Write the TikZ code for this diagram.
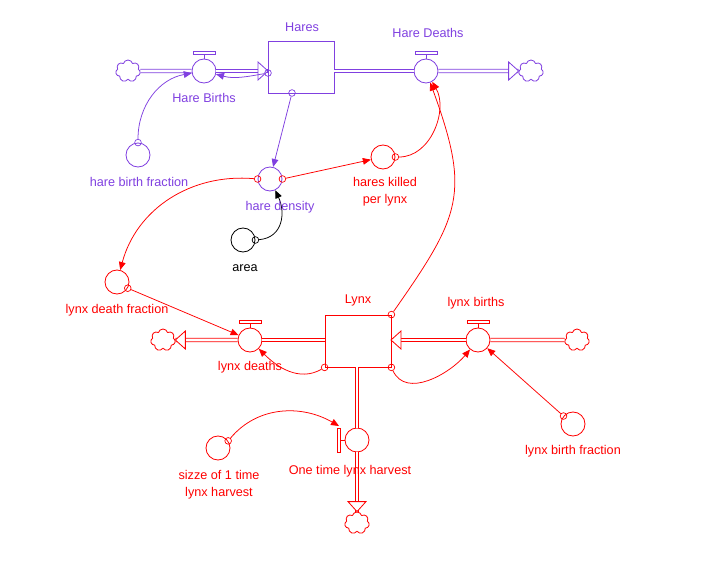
\documentclass[tikz,border=0pt]{standalone}
\usepackage{fontspec}
\setmainfont{Liberation Sans}
\usepackage{xcolor}
\usetikzlibrary{arrows.meta,shapes.symbols}

\definecolor{harepurple}{RGB}{128,64,224}
\definecolor{lynxred}{RGB}{255,0,0}

\tikzset{
  stock/.style={draw, rectangle, minimum width=1.98cm, minimum height=1.56cm, inner sep=0pt, line width=0.7pt},
  valve/.style={draw, circle, fill=white, minimum size=0.72cm, inner sep=0pt, line width=0.7pt},
  aux/.style={draw, circle, minimum size=0.72cm, inner sep=0pt, line width=0.7pt},
  sink/.style={draw, cloud, cloud puffs=7, fill=white, minimum width=0.74cm, minimum height=0.66cm, inner sep=0pt, line width=0.7pt},
  pipe/.style={double, line width=0.7pt, double distance=2.3pt},
  pipehead/.style={line width=0.7pt, fill=white},
  link/.style={line width=0.65pt, -{Triangle[length=0.24cm, width=0.2cm]}},
  tailc/.style={draw, circle, minimum size=0.2cm, inner sep=0pt, line width=0.6pt},
  lbl/.style={font=\fontsize{10.8}{14.5}\selectfont, inner sep=0pt, align=center}
}

\begin{document}
\begin{tikzpicture}[x=0.03cm, y=0.03cm]
            \useasboundingbox (0,0) rectangle (707,-573);

            % stocks and clouds
            \node[harepurple, stock] (hares) at (301,-67) {};
            \node[lynxred, stock] (lynx) at (358,-341) {};
            \node[harepurple, sink] (hsrc) at (128,-71) {};
            \node[harepurple, sink] (hsnk) at (531,-71) {};
            \node[lynxred, sink] (lsnk) at (163,-340) {};
            \node[lynxred, sink] (lsrc) at (577,-340) {};
            \node[lynxred, sink] (harvsnk) at (357,-523) {};

            \coordinate (hin) at (268,-71);
            \coordinate (hout) at (334,-71);
            \coordinate (lout) at (325,-340);
            \coordinate (lin) at (391,-340);
            \coordinate (lbot) at (357,-367);

            % valves
            \node[harepurple, valve] (hbirths) at (204,-71) {};
            \node[harepurple, valve] (hdeaths) at (426,-71) {};
            \node[lynxred, valve] (ldeaths) at (250,-340) {};
            \node[lynxred, valve] (lbirths) at (478,-340) {};
            \node[lynxred, valve] (harvest) at (357,-440) {};
            \draw[harepurple, line width=0.7pt] (hbirths.north) -- ++(0,4) ++(-11,0) rectangle ++(22,3);
            \draw[harepurple, line width=0.7pt] (hdeaths.north) -- ++(0,4) ++(-11,0) rectangle ++(22,3);
            \draw[lynxred, line width=0.7pt] (ldeaths.north) -- ++(0,4) ++(-11,0) rectangle ++(22,3);
            \draw[lynxred, line width=0.7pt] (lbirths.north) -- ++(0,4) ++(-11,0) rectangle ++(22,3);
            \draw[lynxred, line width=0.7pt] (harvest.west) -- ++(-4,0) ++(0,-12) rectangle ++(-3,24);
            \coordinate (harvT) at (339,-426);

            % pipes
            \draw[harepurple, pipe] (hsrc) -- (hbirths);
            \draw[harepurple, pipe] (hbirths) -- (hin);
            \draw[harepurple, pipe] (hout) -- (hdeaths);
            \draw[harepurple, pipe] (hdeaths) -- (hsnk);
            \draw[lynxred, pipe] (lsnk) -- (ldeaths);
            \draw[lynxred, pipe] (ldeaths) -- (lout);
            \draw[lynxred, pipe] (lsrc) -- (lbirths);
            \draw[lynxred, pipe] (lbirths) -- (lin);
            \draw[lynxred, pipe] (lbot) -- (harvest);
            \draw[lynxred, pipe] (harvest) -- (harvsnk);
            \draw[harepurple, pipehead] (hin) -- ++(-10,9) -- ++(0,-18) -- cycle;
            \draw[harepurple, pipehead] (hsnk.west) -- ++(-10,9) -- ++(0,-18) -- cycle;
            \draw[lynxred, pipehead] (lsnk.east) -- ++(10,9) -- ++(0,-18) -- cycle;
            \draw[lynxred, pipehead] (lin) -- ++(10,9) -- ++(0,-18) -- cycle;
            \draw[lynxred, pipehead] (harvsnk.north) -- ++(-9,10) -- ++(18,0) -- cycle;

            % auxiliaries
            \node[harepurple, aux] (hbf) at (138,-155) {};
            \node[harepurple, aux] (hdens) at (270,-179) {};
            \node[lynxred, aux] (hkill) at (383,-157) {};
            \node[black, aux] (area) at (243,-240) {};
            \node[lynxred, aux] (ldf) at (117,-282) {};
            \node[lynxred, aux] (lbf) at (573,-424) {};
            \node[lynxred, aux] (size) at (218,-448) {};

            % links
            \node[harepurple, tailc] (hbfT) at (hbf.north) {};
            \draw[harepurple, link] (hbfT) to[out=90, in=190] (hbirths);
            \node[harepurple, tailc] (hlT) at (268,-73) {};
            \draw[harepurple, link] (hlT) to[out=190, in=-15] (hbirths);
            \node[harepurple, tailc] (hbT) at (292,-93) {};
            \draw[harepurple, link] (hbT) -- (hdens);
            \node[lynxred, tailc] (hdR) at (hdens.east) {};
            \draw[lynxred, link] (hdR) -- (hkill);
            \node[lynxred, tailc] (hdL) at (hdens.west) {};
            \draw[lynxred, link] (hdL) to[out=175, in=75] (ldf);
            \node[black, tailc] (arT) at (area.east) {};
            \draw[black, link] (arT) to[out=5, in=-65, looseness=1.2] (hdens);
            \node[lynxred, tailc] (hkT) at (hkill.east) {};
            \draw[lynxred, link] (hkT) to[out=0, in=-60] (hdeaths);
            \node[lynxred, tailc] (lyTR) at (lynx.north east) {};
            \draw[lynxred, link] (lyTR) to[out=55, in=-70, looseness=1.3] (hdeaths);
            \node[lynxred, tailc] (ldfT) at (ldf.-30) {};
            \draw[lynxred, link] (ldfT) -- (ldeaths);
            \node[lynxred, tailc] (lyBL) at (lynx.south west) {};
            \draw[lynxred, link] (lyBL) to[out=-150, in=-45] (ldeaths);
            \node[lynxred, tailc] (lyBR) at (lynx.south east) {};
            \draw[lynxred, link] (lyBR) to[out=-65, in=-130] (lbirths);
            \node[lynxred, tailc] (lbfT) at (lbf.140) {};
            \draw[lynxred, link] (lbfT) -- (lbirths);
            \node[lynxred, tailc] (szT) at (size.35) {};
            \draw[lynxred, link] (szT) to[out=50, in=150] (harvT);

            % labels
            \node[harepurple, lbl] (haresL) at (302,-27) {Hares};
            \node[harepurple, lbl] (hbirthsL) at (204,-98) {Hare Births};
            \node[harepurple, lbl] (hdeathsL) at (428,-33) {Hare Deaths};
            \node[harepurple, lbl] (hbfL) at (139,-182) {hare birth fraction};
            \node[harepurple, lbl] (hdensL) at (280,-207) {hare density};
            \node[lynxred, lbl] (hkillL) at (385,-192) {hares killed\\per lynx};
            \node[black, lbl] (areaL) at (245,-268) {area};
            \node[lynxred, lbl] (ldfL) at (117,-310) {lynx death fraction};
            \node[lynxred, lbl] (lynxL) at (358,-300) {Lynx};
            \node[lynxred, lbl] (ldeathsL) at (250,-367) {lynx deaths};
            \node[lynxred, lbl] (lbirthsL) at (476,-303) {lynx births};
            \node[lynxred, lbl] (lbfL) at (573,-451) {lynx birth fraction};
            \node[lynxred, lbl] (harvestL) at (350,-471) {One time lynx harvest};
            \node[lynxred, lbl] (sizeL) at (219,-485) {sizze of 1 time\\lynx harvest};
\end{tikzpicture}
\end{document}
